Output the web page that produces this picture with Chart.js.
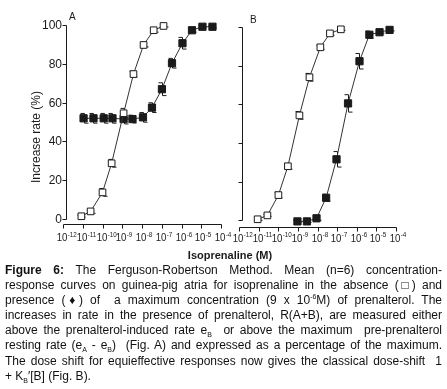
<!DOCTYPE html>
<html><head><meta charset="utf-8">
<script src="https://cdn.jsdelivr.net/npm/chart.js@4.4.1/dist/chart.umd.min.js"></script>
<style>
html,body{margin:0;padding:0;background:#fff;width:447px;height:389px;overflow:hidden;}
.cv{position:absolute;left:0;top:0;}
#cap{position:absolute;left:5px;top:263px;width:437px;font-family:"Liberation Sans",Arial,sans-serif;font-size:12px;line-height:15.1px;color:#111;}
#cap .l{text-align:justify;text-align-last:justify;}
#cap sup,#cap sub{font-size:7px;line-height:0;}
</style>
</head><body>
<canvas id="ca" class="cv" width="447" height="262"></canvas>
<canvas id="cb" class="cv" width="447" height="262"></canvas>
<div id="cap">
<div class="l"><b>Figure 6:</b> The Ferguson-Robertson Method. Mean (n=6) concentration-</div>
<div class="l">response curves on guinea-pig atria for isoprenaline in the absence (□) and</div>
<div class="l">presence (♦) of&nbsp; a maximum concentration (9 x 10<sup>-6</sup>M) of prenalterol. The</div>
<div class="l">increases in rate in the presence of prenalterol, R(A+B), are measured either</div>
<div class="l">above the prenalterol-induced rate e<sub>B</sub>&nbsp; or above the maximum&nbsp; pre-prenalterol</div>
<div class="l">resting rate (e<sub>A</sub> - e<sub>B</sub>)&nbsp; (Fig. A) and expressed as a percentage of the maximum.</div>
<div class="l">The dose shift for equieffective responses now gives the classical dose-shift&nbsp; 1</div>
<div>+ K<sub>B</sub>′[B] (Fig. B).</div>
</div>
<script>
// ---- data (isoprenaline concentration in M, response in %, error bar half-height in %) ----
const X_TICKS = [1e-12,1e-11,1e-10,1e-9,1e-8,1e-7,1e-6,1e-5,1e-4];
const X_TICK_BASE = '10';
const X_TICK_EXP = ['-12','-11','-10','-9','-8','-7','-6','-5','-4'];
const Y_TICKS = [0,20,40,60,80,100];
const Y_TITLE = 'Increase rate (%)';
const X_TITLE = 'Isoprenaline (M)';

// Panel A - absence (open squares)
const A_open_conc = [8.5e-12, 2.5e-11, 1.0e-10, 2.9e-10, 1.17e-9, 3.7e-9, 1.2e-8, 3.9e-8, 1.23e-7];
const A_open_resp = [1.4, 3.9, 13.7, 28.7, 54.5, 74.7, 89.7, 97.3, 99.5];
const A_open_err  = [0.5, 1, 2, 2, 2.5, 1.5, 1, 1, 0.5];
// Panel A - presence of prenalterol (filled squares)
const A_fill_conc = [1.1e-11, 3.5e-11, 1.15e-10, 3.2e-10, 1.17e-9, 3.3e-9, 1.12e-8, 3.2e-8, 1.02e-7, 3.3e-7, 1.12e-6, 3.4e-6, 1.15e-5, 3.7e-5];
const A_fill_resp = [51.9, 51.9, 51.9, 51.9, 51.5, 51.5, 52.4, 57.4, 66.9, 80.3, 90.6, 97.3, 99.1, 99.1];
const A_fill_err  = [2.5, 2.5, 2.5, 2.5, 2.5, 2, 2.5, 2.5, 3.3, 2.5, 3, 1, 0.5, 0.5];
// Panel B - absence (open squares)
const B_open_conc = [8.9e-12, 2.8e-11, 1.02e-10, 3.1e-10, 1.2e-9, 3.9e-9, 1.4e-8, 4.3e-8, 1.55e-7];
const B_open_resp = [0.6, 2.6, 13.1, 28.0, 54.3, 74.0, 89.5, 96.7, 98.8];
const B_open_err  = [0.5, 0.5, 1.5, 1.5, 2, 2, 1, 1, 0.5];
// Panel B - presence, rescaled (filled squares)
const B_fill_conc = [9.5e-10, 2.9e-9, 8.9e-9, 2.75e-8, 9.3e-8, 3.6e-7, 1.38e-6, 4.4e-6, 1.45e-5, 4.7e-5];
const B_fill_resp = [-0.5, -0.5, 1.1, 11.7, 31.6, 60.5, 82.3, 96.0, 97.3, 98.5];
const B_fill_err  = [0.5, 0.5, 1, 1.8, 4, 4.5, 4, 1.9, 0.5, 0.5];

const FONT = '"Liberation Sans", Arial, Helvetica, sans-serif';
const INK = '#1a1a1a';

function pts(c, r, e){ return c.map((v,i)=>({x:v, y:r[i], e:e[i]})); }

function ds(data, filled){
  return {
    data, clip:false,
    borderColor:'#333', borderWidth:1, tension:0,
    pointStyle:'rect',
    pointRadius: filled ? 5.1 : 4.7,
    pointBackgroundColor: filled ? INK : '#fff',
    pointBorderColor: INK, pointBorderWidth: 1
  };
}

const errPlugin = {
  id:'errbars',
  beforeDatasetsDraw(chart){
    const ctx = chart.ctx, xs = chart.scales.x, ys = chart.scales.y;
    ctx.save(); ctx.strokeStyle = INK; ctx.lineWidth = 1;
    chart.data.datasets.forEach(d=>{
      d.data.forEach(p=>{
        const x = Math.round(xs.getPixelForValue(p.x)) + 0.5;
        const yt = ys.getPixelForValue(p.y + p.e), yb = ys.getPixelForValue(p.y - p.e);
        ctx.beginPath();
        ctx.moveTo(x, yt); ctx.lineTo(x, yb);
        ctx.moveTo(x - 4, yt); ctx.lineTo(x, yt);
        ctx.moveTo(x, yb); ctx.lineTo(x + 4, yb);
        ctx.stroke();
      });
    });
    ctx.restore();
  }
};

function axesPlugin(cfg){
  return {
    id:'axes',
    afterDraw(chart){
      const ctx = chart.ctx, xs = chart.scales.x, ys = chart.scales.y;
      ctx.save();
      ctx.strokeStyle = INK; ctx.fillStyle = INK; ctx.lineWidth = 1;
      // y axis (detached, Prism style)
      const yax = Math.round(xs.left + cfg.yAxisDx) + 0.5;
      const yTop = ys.getPixelForValue(Y_TICKS[Y_TICKS.length-1]);
      const yBot = ys.getPixelForValue(Y_TICKS[0]);
      ctx.beginPath(); ctx.moveTo(yax, Math.round(yTop)+0.5); ctx.lineTo(yax, Math.round(yBot)+0.5); ctx.stroke();
      ctx.font = '12px ' + FONT; ctx.textAlign = 'right'; ctx.textBaseline = 'middle';
      Y_TICKS.forEach(t=>{
        const yy = Math.round(ys.getPixelForValue(t)) + 0.5;
        ctx.beginPath(); ctx.moveTo(yax - 4, yy); ctx.lineTo(yax, yy); ctx.stroke();
        if (cfg.yLabels) ctx.fillText(String(t), yax - 4.5, yy + 0.5);
      });
      // x axis
      const xa = Math.round(ys.bottom) + 0.5;
      const x0 = xs.getPixelForValue(X_TICKS[0]), x1 = xs.getPixelForValue(X_TICKS[X_TICKS.length-1]);
      ctx.beginPath(); ctx.moveTo(Math.round(x0)+0.5, xa); ctx.lineTo(Math.round(x1)+0.5, xa); ctx.stroke();
      const sx = 0.84;
      X_TICKS.forEach((t,i)=>{
        const xx = Math.round(xs.getPixelForValue(t)) + 0.5;
        ctx.beginPath(); ctx.moveTo(xx, xa); ctx.lineTo(xx, xa + 4); ctx.stroke();
        ctx.save();
        ctx.translate(xx - 6.8, cfg.xLabelBase);
        ctx.scale(sx, 1);
        ctx.textAlign = 'left'; ctx.textBaseline = 'alphabetic';
        ctx.font = '11.5px ' + FONT;
        ctx.fillText(X_TICK_BASE, 0, 0);
        const w = ctx.measureText(X_TICK_BASE).width;
        ctx.font = '7.5px ' + FONT;
        ctx.fillText(X_TICK_EXP[i], w + 0.3, -4.5);
        ctx.restore();
      });
      // panel letter
      ctx.font = '10px ' + FONT; ctx.textAlign = 'left'; ctx.textBaseline = 'alphabetic';
      ctx.fillText(cfg.letter, cfg.letterX, cfg.letterY);
      if (cfg.titles){
        ctx.save();
        ctx.translate(37, 137); ctx.rotate(-Math.PI/2);
        ctx.textAlign = 'center'; ctx.textBaseline = 'middle';
        ctx.font = '12px ' + FONT;
        ctx.fillText(Y_TITLE, 0, 0);
        ctx.restore();
        ctx.font = 'bold 11px ' + FONT; ctx.textAlign = 'center'; ctx.textBaseline = 'alphabetic';
        ctx.fillText(X_TITLE, 230, 259);
      }
      ctx.restore();
    }
  };
}

function makeChart(id, sets, pad, ymin, cfg){
  return new Chart(document.getElementById(id), {
    type:'line',
    data:{ datasets: sets },
    options:{
      responsive:false, animation:false, devicePixelRatio:1, events:[],
      layout:{ padding: pad },
      plugins:{ legend:{display:false}, tooltip:{enabled:false} },
      scales:{
        x:{ type:'logarithmic', display:false, min:X_TICKS[0], max:X_TICKS[X_TICKS.length-1] },
        y:{ type:'linear', display:false, min:ymin, max:Y_TICKS[Y_TICKS.length-1] }
      }
    },
    plugins:[errPlugin, axesPlugin(cfg)]
  });
}

makeChart('ca',
  [ds(pts(A_open_conc, A_open_resp, A_open_err), false), ds(pts(A_fill_conc, A_fill_resp, A_fill_err), true)],
  {left:63, right:226, top:25, bottom:38}, -2.6,
  {yAxisDx:2.5, yLabels:true, xLabelBase:241, letter:'A', letterX:69, letterY:20, titles:true});

makeChart('cb',
  [ds(pts(B_open_conc, B_open_resp, B_open_err), false), ds(pts(B_fill_conc, B_fill_resp, B_fill_err), true)],
  {left:239, right:51, top:27, bottom:35}, -3.4,
  {yAxisDx:3, yLabels:false, xLabelBase:241.7, letter:'B', letterX:250, letterY:23, titles:false});
</script>
</body></html>
